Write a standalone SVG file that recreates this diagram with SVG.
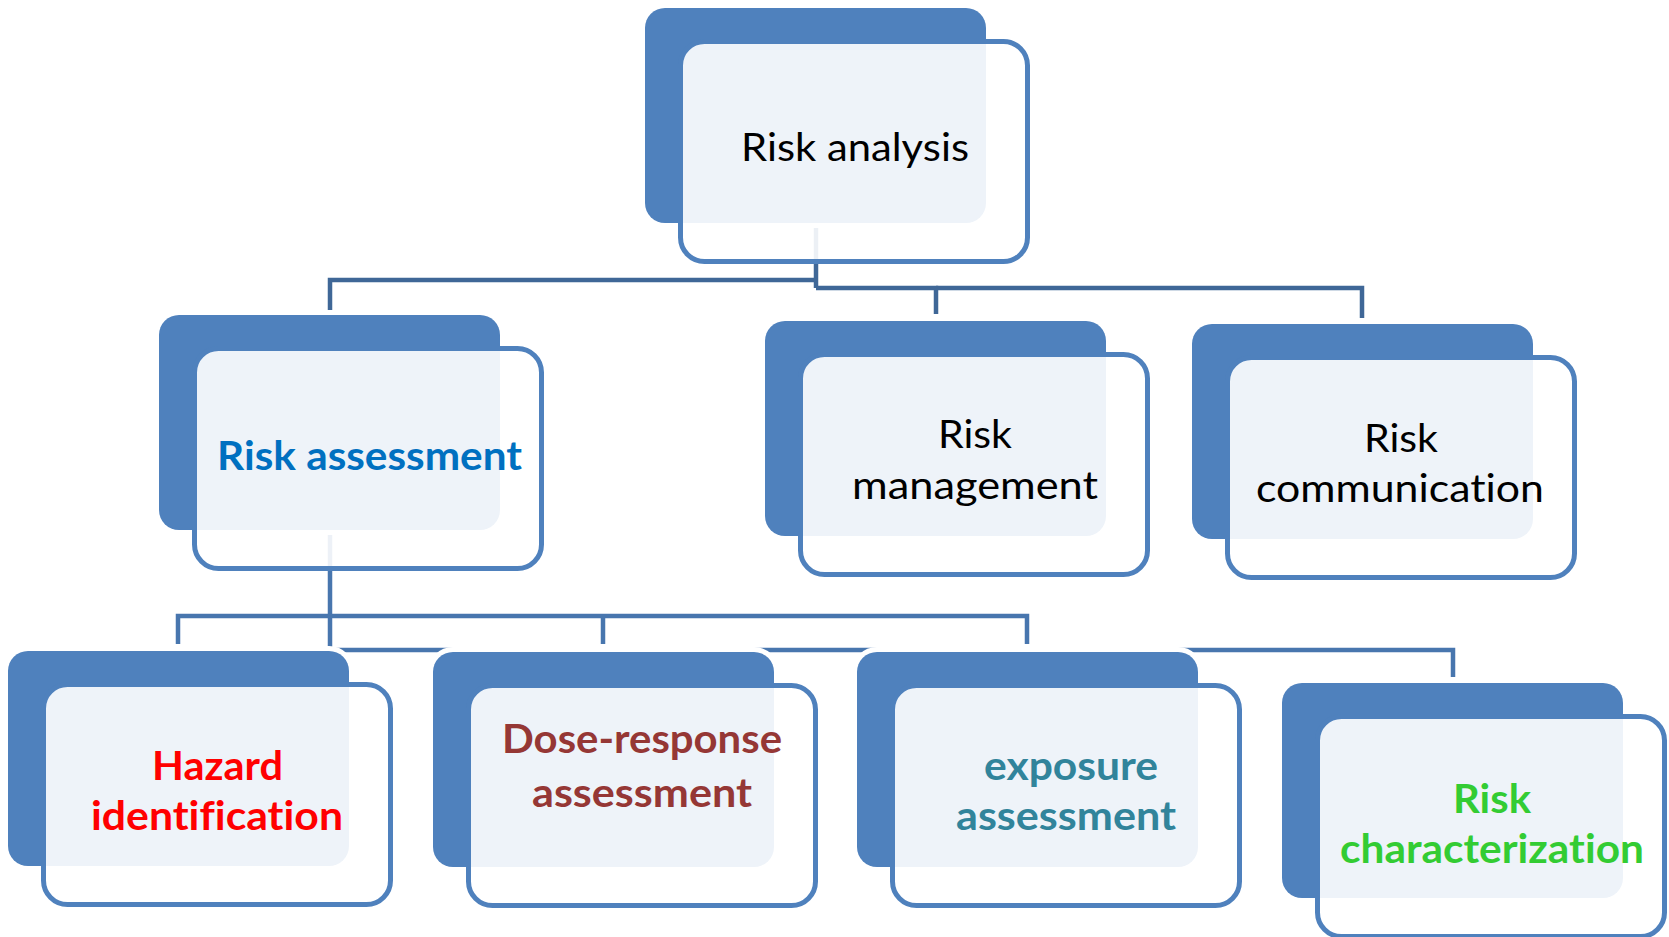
<svg xmlns="http://www.w3.org/2000/svg" width="1669" height="937" viewBox="0 0 1669 937">
<style>
.back{fill:#4F81BD;stroke:#FFFFFF;stroke-width:10;paint-order:stroke}
.front{fill:#FFFFFF;fill-opacity:0.9;stroke:#4F81BD;stroke-width:5}
.c1{fill:none;stroke:#3F6797;stroke-width:4.5}
.c2{fill:none;stroke:#4876AE;stroke-width:4.5}
.t{font-family:Lato,"Liberation Sans",Arial,sans-serif;text-anchor:middle;font-variant-ligatures:none}
.reg{font-size:39px;fill:#000000}
.bold{font-size:40px;font-weight:bold}
</style>
<rect width="1669" height="937" fill="#FFFFFF"/>
<g id="connectors">
<path class="c1" d="M816,228 V288"/>
<path class="c1" d="M816,280 H330 V311"/>
<path class="c1" d="M816,288 H936 V314"/>
<path class="c1" d="M936,288 H1362 V318"/>
<path class="c2" d="M330,535 V650 H1453 V677"/>
<path class="c2" d="M178,644 V616 H1027 V644"/>
<path class="c2" d="M603,616 V644"/>
</g>
<g id="risk-analysis">
<rect class="back" x="645" y="8" width="341" height="215" rx="20"/>
<rect class="front" x="680.5" y="41.5" width="347" height="220" rx="24"/>
<text class="t reg" x="855" y="161" textLength="228" lengthAdjust="spacingAndGlyphs">Risk analysis</text>
</g>
<g id="risk-assessment">
<rect class="back" x="159" y="315" width="341" height="215" rx="20"/>
<rect class="front" x="194.5" y="348.5" width="347" height="220" rx="24"/>
<text class="t bold" x="369.5" y="470" fill="#0070C0" textLength="305" lengthAdjust="spacingAndGlyphs">Risk assessment</text>
</g>
<g id="risk-management">
<rect class="back" x="765" y="321" width="341" height="215" rx="20"/>
<rect class="front" x="800.5" y="354.5" width="347" height="220" rx="24"/>
<text class="t reg" x="975" y="448" textLength="74" lengthAdjust="spacingAndGlyphs">Risk</text>
<text class="t reg" x="975" y="499" textLength="246" lengthAdjust="spacingAndGlyphs">management</text>
</g>
<g id="risk-communication">
<rect class="back" x="1192" y="324" width="341" height="215" rx="20"/>
<rect class="front" x="1227.5" y="357.5" width="347" height="220" rx="24"/>
<text class="t reg" x="1401" y="452" textLength="74" lengthAdjust="spacingAndGlyphs">Risk</text>
<text class="t reg" x="1400" y="502" textLength="288" lengthAdjust="spacingAndGlyphs">communication</text>
</g>
<g id="hazard-identification">
<rect class="back" x="8" y="651" width="341" height="215" rx="20"/>
<rect class="front" x="43.5" y="684.5" width="347" height="220" rx="24"/>
<text class="t bold" x="217.5" y="780" fill="#FF0000" textLength="131" lengthAdjust="spacingAndGlyphs">Hazard</text>
<text class="t bold" x="217" y="830" fill="#FF0000" textLength="252" lengthAdjust="spacingAndGlyphs">identification</text>
</g>
<g id="dose-response-assessment">
<rect class="back" x="433" y="652" width="341" height="215" rx="20"/>
<rect class="front" x="468.5" y="685.5" width="347" height="220" rx="24"/>
<text class="t bold" x="642" y="753" fill="#953735" textLength="280" lengthAdjust="spacingAndGlyphs">Dose-response</text>
<text class="t bold" x="642" y="807" fill="#953735" textLength="220" lengthAdjust="spacingAndGlyphs">assessment</text>
</g>
<g id="exposure-assessment">
<rect class="back" x="857" y="652" width="341" height="215" rx="20"/>
<rect class="front" x="892.5" y="685.5" width="347" height="220" rx="24"/>
<text class="t bold" x="1071" y="780" fill="#31849B" textLength="174" lengthAdjust="spacingAndGlyphs">exposure</text>
<text class="t bold" x="1066" y="830" fill="#31849B" textLength="220" lengthAdjust="spacingAndGlyphs">assessment</text>
</g>
<g id="risk-characterization">
<rect class="back" x="1282" y="683" width="341" height="215" rx="20"/>
<rect class="front" x="1317.5" y="716.5" width="347" height="220" rx="24"/>
<text class="t bold" x="1492" y="813" fill="#33CC33" textLength="78" lengthAdjust="spacingAndGlyphs">Risk</text>
<text class="t bold" x="1492" y="863" fill="#33CC33" textLength="304" lengthAdjust="spacingAndGlyphs">characterization</text>
</g>
</svg>
